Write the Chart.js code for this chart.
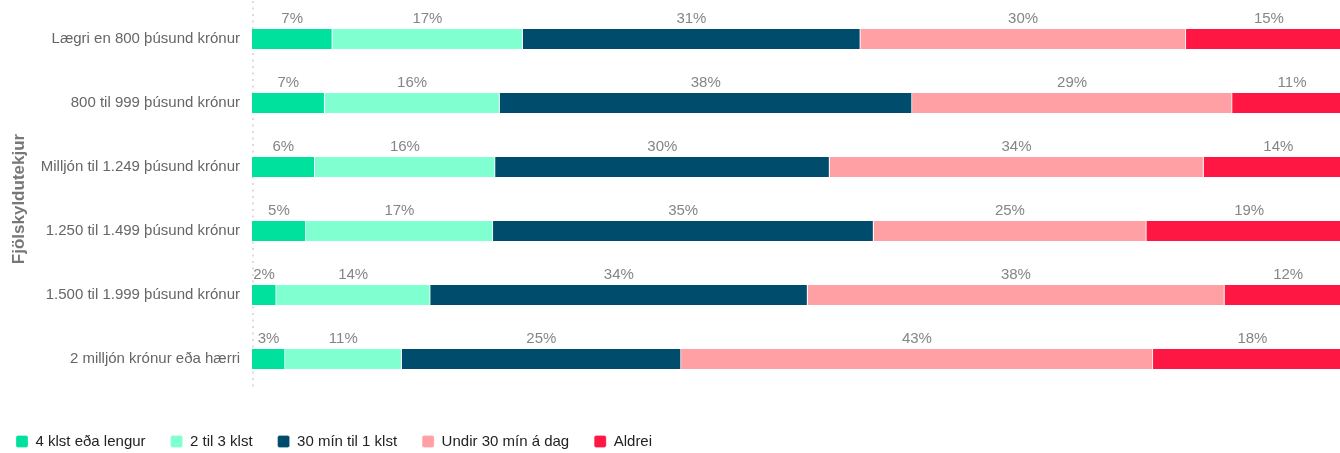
<!DOCTYPE html>
<html lang="is">
<head>
<meta charset="utf-8">
<title>Fjölskyldutekjur</title>
<script src="https://cdn.jsdelivr.net/npm/chart.js@4.4.1/dist/chart.umd.min.js"></script>
<style>
    html, body { margin: 0; padding: 0; background: #fff; overflow: hidden; }
    #wrap { width: 1352px; height: 453px; }
</style>
</head>
<body>
<div id="wrap"><canvas id="barChart" width="1352" height="453"></canvas></div>
<script>
    // tekjuhópar
    const categories = [
        "Lægri en 800 þúsund krónur",
        "800 til 999 þúsund krónur",
        "Milljón til 1.249 þúsund krónur",
        "1.250 til 1.499 þúsund krónur",
        "1.500 til 1.999 þúsund krónur",
        "2 milljón krónur eða hærri"
    ];

    const seriesNames = ["4 klst eða lengur", "2 til 3 klst", "30 mín til 1 klst", "Undir 30 mín á dag", "Aldrei"];
    const seriesColors = ["#00e19d", "#80ffd0", "#004c6d", "#ffa0a5", "#ff1744"];

    // % per row
    const fourPlus   = [7.3, 6.6, 5.7, 4.9, 2.2, 3.0];
    const twoToThree = [17.3, 15.9, 16.4, 17.0, 14.0, 10.6];
    const halfToOne  = [30.7, 37.5, 30.4, 34.6, 34.3, 25.4];
    const underHalf  = [29.6, 29.1, 34.0, 24.8, 37.9, 42.9];
    const never      = [15.1, 10.9, 13.6, 18.7, 11.6, 18.1];

    const seriesValues = [fourPlus, twoToThree, halfToOne, underHalf, never];

    const FONT = "'Liberation Sans', Arial, sans-serif";

    // labels above each segment
    const valueLabels = {
        id: "valueLabels",
        afterDatasetsDraw(chart) {
            const ctx = chart.ctx;
            ctx.save();
            ctx.font = "15px " + FONT;
            ctx.fillStyle = "#858585";
            ctx.textAlign = "center";
            ctx.textBaseline = "alphabetic";
            chart.data.datasets.forEach((ds, i) => {
                chart.getDatasetMeta(i).data.forEach((bar, j) => {
                    const cx = (bar.x + bar.base) / 2;
                    const top = bar.y - bar.height / 2;
                    ctx.fillText(Math.round(ds.data[j]) + "%", cx, top - 6);
                });
            });
            ctx.restore();
        }
    };

    // dotted axis line on the left of the bars
    const dottedAxis = {
        id: "dottedAxis",
        beforeDatasetsDraw(chart) {
            const ctx = chart.ctx;
            const x = chart.chartArea.left + 1;
            ctx.save();
            ctx.strokeStyle = "#dddddd";
            ctx.lineWidth = 2;
            ctx.setLineDash([2, 4.5]);
            ctx.beginPath();
            ctx.moveTo(x, 1);
            ctx.lineTo(x, chart.chartArea.bottom);
            ctx.stroke();
            ctx.restore();
        }
    };

    const ctx = document.getElementById("barChart").getContext("2d");

    new Chart(ctx, {
        type: "bar",
        data: {
            labels: categories,
            datasets: seriesNames.map((name, i) => ({
                label: name,
                data: seriesValues[i],
                backgroundColor: seriesColors[i],
                borderColor: "#ffffff",
                borderWidth: { top: 0, bottom: 0, left: 0, right: 1 },
                borderSkipped: false,
                borderRadius: 0,
                barThickness: 20
            }))
        },
        options: {
            indexAxis: "y",
            responsive: false,
            animation: false,
            layout: { padding: { top: 0, left: -9, right: 0, bottom: -6 } },
            scales: {
                x: {
                    stacked: true,
                    min: 0,
                    max: 100,
                    ticks: { display: false },
                    grid: { display: false, drawTicks: false },
                    border: { display: false },
                    afterFit: (s) => { s.height = 18; }
                },
                y: {
                    stacked: true,
                    grid: { display: false, drawTicks: false },
                    border: { display: false },
                    ticks: {
                        color: "#666",
                        padding: 12,
                        font: { family: FONT, size: 15 }
                    },
                    title: {
                        display: true,
                        text: "Fjölskyldutekjur",
                        color: "#777",
                        padding: { top: 18, bottom: 0 },
                        font: { family: FONT, size: 17, weight: "bold" }
                    },
                    afterFit: (s) => {
                        s.width = 261;
                        s.paddingTop = 7;
                        s.paddingBottom = 0;
                    }
                }
            },
            plugins: {
                legend: {
                    position: "bottom",
                    align: "start",
                    labels: {
                        boxWidth: 12,
                        boxHeight: 12,
                        useBorderRadius: true,
                        borderRadius: 2,
                        padding: 25,
                        color: "#222",
                        font: { family: FONT, size: 15 }
                    }
                },
                tooltip: { enabled: false }
            }
        },
        plugins: [dottedAxis, valueLabels]
    });
</script>
</body>
</html>
